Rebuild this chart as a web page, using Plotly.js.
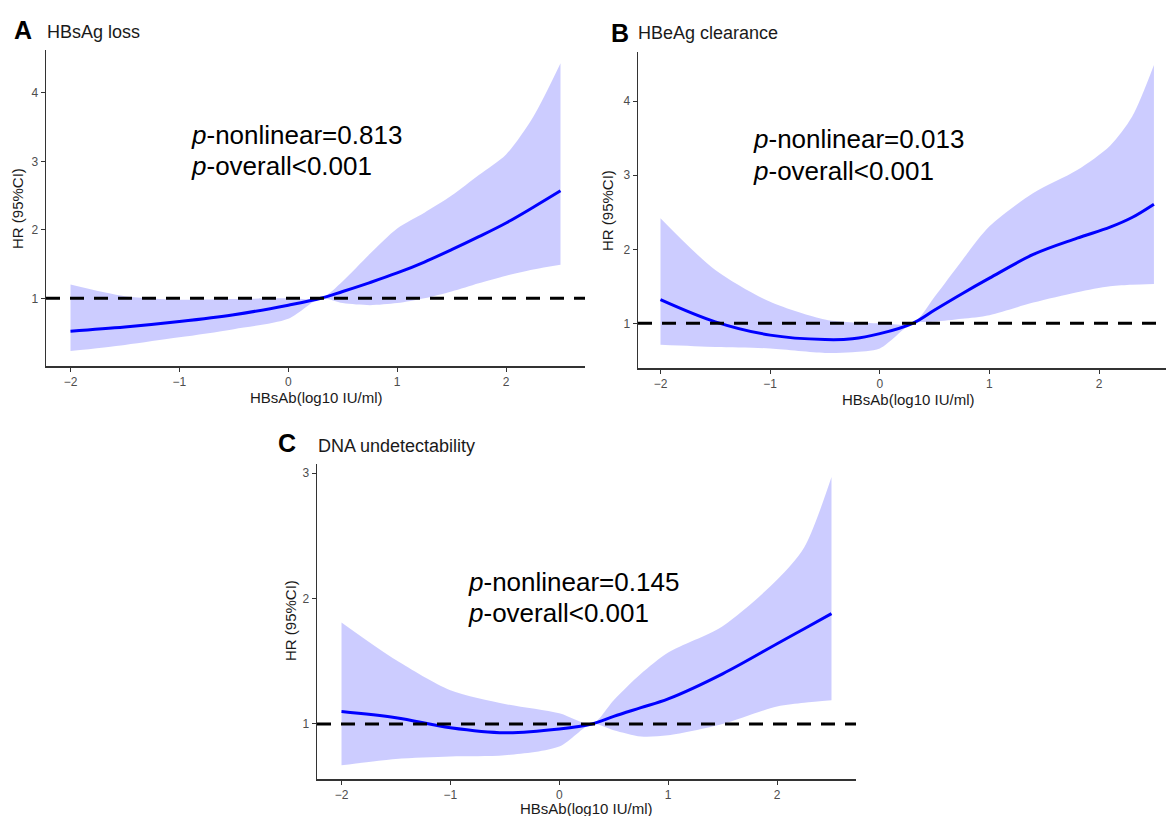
<!DOCTYPE html>
<html>
<head>
<meta charset="utf-8">
<script src="https://cdn.plot.ly/plotly-3.0.1.min.js"></script>
<style>html,body{margin:0;padding:0;background:#fff;}#chart{width:1166px;height:816px;}</style>
</head>
<body>
<div id="chart"></div>
<script>
// ---- Panel A: HBsAg loss ----
const xA  = [-2, -1.5, -1, -0.5, 0, 0.3, 0.5, 0.75, 1, 1.25, 1.5, 1.75, 2, 2.25, 2.5];
const hrA = [0.52, 0.58, 0.66, 0.76, 0.90, 1.0, 1.10, 1.23, 1.37, 1.53, 1.71, 1.90, 2.10, 2.33, 2.57];
const upA = [1.20, 1.03, 0.98, 0.99, 1.0, 1.0, 1.25, 1.65, 2.02, 2.25, 2.50, 2.80, 3.10, 3.65, 4.43];
const loA = [0.23, 0.32, 0.43, 0.55, 0.70, 1.0, 0.93, 0.90, 0.93, 1.00, 1.10, 1.22, 1.33, 1.42, 1.49];

// ---- Panel B: HBeAg clearance ----
const xB  = [-2, -1.5, -1, -0.5, -0.25, 0, 0.3, 0.5, 0.75, 1, 1.4, 1.8, 2.1, 2.3, 2.5];
const hrB = [1.32, 1.02, 0.84, 0.78, 0.79, 0.86, 1.0, 1.18, 1.40, 1.61, 1.93, 2.15, 2.30, 2.43, 2.61];
const upB = [2.42, 1.72, 1.29, 1.05, 1.01, 1.0, 1.0, 1.36, 1.85, 2.31, 2.76, 3.07, 3.40, 3.79, 4.49];
const loB = [0.71, 0.68, 0.66, 0.60, 0.61, 0.66, 1.0, 1.02, 1.06, 1.11, 1.28, 1.42, 1.50, 1.52, 1.53];

// ---- Panel C: DNA undetectability ----
const xC  = [-2, -1.5, -1, -0.5, 0, 0.3, 0.5, 0.75, 1, 1.5, 2, 2.25, 2.5];
const hrC = [1.10, 1.05, 0.97, 0.93, 0.96, 1.0, 1.06, 1.13, 1.20, 1.40, 1.64, 1.76, 1.88];
const upC = [1.81, 1.51, 1.27, 1.16, 1.085, 1.0, 1.19, 1.40, 1.57, 1.78, 2.15, 2.41, 2.97];
const loC = [0.67, 0.72, 0.74, 0.75, 0.82, 1.0, 0.95, 0.90, 0.91, 1.00, 1.14, 1.17, 1.19];

const xTicks = [-2, -1, 0, 1, 2];
const xTickText = ['\u22122', '\u22121', '0', '1', '2'];
const yTicksAB = [1, 2, 3, 4];
const yTicksC = [1, 2, 3];

const titles = ['HBsAg loss', 'HBeAg clearance', 'DNA undetectability'];
const letters = ['A', 'B', 'C'];
const pNonlinear = ['0.813', '0.013', '0.145'];
const pOverall = ['&lt;0.001', '&lt;0.001', '&lt;0.001'];
const xTitle = 'HBsAb(log10 IU/ml)';
const yTitle = 'HR (95%CI)';

const W = 1166, H = 816;
const FONT = 'Liberation Sans, Arial, sans-serif';
const bandColor = 'rgba(0,0,255,0.2)';

const panels = [
  {x: xA, hr: hrA, up: upA, lo: loA, xa: 'x', ya: 'y',
   dom: [46, 585], ydom: [50, 366], xr: [-2.225, 2.725], yr: [0.012, 4.625], yt: yTicksAB,
   letter: [12, 30], title: [45, 32], ptxt: [189, 135, 166], xt: [316, 397], ytt: [18, 209]},
  {x: xB, hr: hrB, up: upB, lo: loB, xa: 'x2', ya: 'y2',
   dom: [638, 1166], ydom: [52, 368], xr: [-2.205, 2.61], yr: [0.396, 4.666], yt: yTicksAB,
   letter: [609, 33], title: [636, 33], ptxt: [751, 139, 171], xt: [908, 399], ytt: [608, 211]},
  {x: xC, hr: hrC, up: upC, lo: loC, xa: 'x3', ya: 'y3',
   dom: [317, 856], ydom: [464, 779], xr: [-2.225, 2.725], yr: [0.561, 3.074], yt: yTicksC,
   letter: [276, 443], title: [316, 446], ptxt: [466, 582, 613], xt: [587, 808], ytt: [290, 621]}
];

const data = [];
const layout = {
  width: W, height: H,
  margin: {l: 0, r: 0, t: 0, b: 0},
  paper_bgcolor: '#fff', plot_bgcolor: '#fff',
  showlegend: false,
  font: {family: FONT},
  annotations: [], shapes: []
};

function ann(x, y, text, size, extra) {
  return Object.assign({xref: 'paper', yref: 'paper', x: x / W, y: 1 - y / H,
    xanchor: 'left', yanchor: 'middle', showarrow: false, text: text,
    font: {size: size, color: '#000', family: FONT}}, extra || {});
}

panels.forEach((p, i) => {
  const n = i === 0 ? '' : String(i + 1);
  data.push({x: p.x, y: p.up, xaxis: p.xa, yaxis: p.ya, mode: 'lines',
    line: {width: 0, shape: 'spline', smoothing: 0.8, color: bandColor}, hoverinfo: 'skip'});
  data.push({x: p.x, y: p.lo, xaxis: p.xa, yaxis: p.ya, mode: 'lines', fill: 'tonexty',
    fillcolor: bandColor, line: {width: 0, shape: 'spline', smoothing: 0.8, color: bandColor}, hoverinfo: 'skip'});
  data.push({x: p.x, y: p.hr, xaxis: p.xa, yaxis: p.ya, mode: 'lines',
    line: {width: 3, color: '#0000ff', shape: 'spline', smoothing: 1}});

  layout['xaxis' + n] = {
    domain: [p.dom[0] / W, p.dom[1] / W], range: p.xr, anchor: 'y' + n,
    showgrid: false, zeroline: false, showline: true, linecolor: '#333', linewidth: 1.5,
    ticks: 'outside', ticklen: 4, tickcolor: '#333', tickwidth: 1,
    tickvals: xTicks, ticktext: xTickText,
    tickfont: {size: 12, color: '#4d4d4d', family: FONT}, fixedrange: true
  };
  layout['yaxis' + n] = {
    domain: [1 - p.ydom[1] / H, 1 - p.ydom[0] / H], range: p.yr, anchor: 'x' + n,
    showgrid: false, zeroline: false, showline: true, linecolor: '#333', linewidth: 1.5,
    ticks: 'outside', ticklen: 4, tickcolor: '#333', tickwidth: 1,
    tickvals: p.yt, ticktext: p.yt.map(String),
    tickfont: {size: 12, color: '#4d4d4d', family: FONT}, fixedrange: true
  };

  layout.shapes.push({type: 'line', xref: p.xa + ' domain', yref: p.ya,
    x0: 0, x1: 1, y0: 1, y1: 1, line: {color: '#000', width: 3, dash: '14px,10px'}});

  layout.annotations.push(ann(p.letter[0], p.letter[1], '<b>' + letters[i] + '</b>', 25));
  layout.annotations.push(ann(p.title[0], p.title[1], titles[i], 18, {font: {size: 18, color: '#1a1a1a', family: FONT}}));
  layout.annotations.push(ann(p.ptxt[0], p.ptxt[1], '<i>p</i>-nonlinear=' + pNonlinear[i], 26));
  layout.annotations.push(ann(p.ptxt[0], p.ptxt[2], '<i>p</i>-overall' + pOverall[i], 26));
  layout.annotations.push(ann(p.xt[0], p.xt[1], xTitle, 15,
    {xanchor: 'center', font: {size: 15, color: '#1a1a1a', family: FONT}}));
  layout.annotations.push(ann(p.ytt[0], p.ytt[1], yTitle, 15,
    {xanchor: 'center', textangle: -90, font: {size: 15, color: '#1a1a1a', family: FONT}}));
});

Plotly.newPlot('chart', data, layout, {staticPlot: true, displayModeBar: false});
</script>
</body>
</html>
